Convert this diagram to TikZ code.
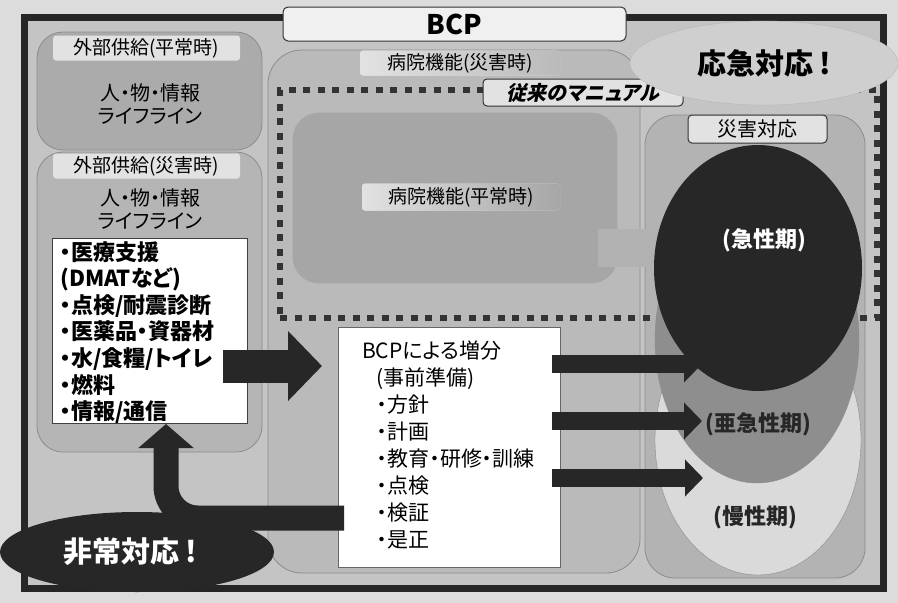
\documentclass[tikz,border=0pt]{standalone}
\usepackage{fontspec}
\setmainfont{Noto Sans CJK JP}[RawFeature=+palt]
\newfontfamily\jpsl{Noto Sans CJK JP}[RawFeature=+palt, FakeSlant=0.22]
\usetikzlibrary{arrows.meta,shapes.geometric}
\definecolor{paper}{HTML}{DCDCDC}
\definecolor{framefill}{HTML}{C4C4C4}
\definecolor{extfill}{HTML}{ABABAB}
\definecolor{ext2fill}{HTML}{B5B5B5}
\definecolor{midfill}{HTML}{BABABA}
\definecolor{normfill}{HTML}{A6A6A6}
\definecolor{rightfill}{HTML}{B3B3B3}
\definecolor{lightell}{HTML}{DADADA}
\definecolor{medell}{HTML}{8E8E8E}
\definecolor{darkc}{HTML}{272727}
\definecolor{stripc}{HTML}{E2E2E2}
\definecolor{grayarr}{HTML}{B2B2B2}
\begin{document}
\begin{tikzpicture}[x=1pt,y=-1pt,
  panel/.style={draw=black!45, line width=0.8pt, rounded corners=26pt, inner sep=0pt},
  strip/.style={fill=stripc, inner sep=0pt, rounded corners=3pt, font=\fontsize{19}{22}\selectfont},
  tagbox/.style={draw=black!80, line width=1pt, fill=stripc, rounded corners=4pt, inner sep=0pt},
  plainbox/.style={draw=black!75, line width=0.9pt, fill=white, inner sep=0pt},
  ell/.style={ellipse, inner sep=0pt},
  txt/.style={inner sep=0pt},
  bigarrow/.style={draw=darkc, line width=33pt, -{Triangle[length=34pt,width=68pt]}},
  midarrow/.style={draw=darkc, line width=18pt, -{Triangle[length=18pt,width=36pt]}},
  curvearrow/.style={draw=darkc, line width=25pt, rounded corners=32pt, -{Triangle[length=24pt,width=54pt]}},
  softarrow/.style={draw=grayarr, line width=38pt, -{Triangle[length=36pt,width=70pt]}}
]
\useasboundingbox (0,0) rectangle (898,603);
\fill[paper] (0,0) rectangle (898,603);
% outer frame
\node[draw=black!85, line width=7pt, fill=framefill, minimum width=859.5, minimum height=571, inner sep=0pt] (frame) at (453.75,302.5) {};
% big panels
\node[panel, fill=midfill, minimum width=372, minimum height=523, rounded corners=34pt] (mid) at (454,311.5) {};
\node[panel, fill=rightfill, minimum width=220, minimum height=463, rounded corners=30pt] (right) at (755,346.5) {};
\node[panel, fill=extfill, minimum width=225, minimum height=118] (ext1) at (149.5,91) {};
\node[panel, fill=ext2fill, minimum width=225, minimum height=300] (ext2) at (149.5,302) {};
\node[panel, fill=normfill, draw=black!35, minimum width=324, minimum height=170] (norm) at (455,198) {};
% label strips
\node[strip, minimum width=187, minimum height=25] (lext1) at (146.5,48) {外部供給(平常時)};
\node[strip, minimum width=187, minimum height=25] (lext2) at (146.5,166) {外部供給(災害時)};
\node[strip, left color=stripc, right color=midfill, minimum width=200, minimum height=25] (lmid) at (460,63) {病院機能(災害時)};
\node[strip, left color=stripc, right color=normfill, minimum width=198, minimum height=27] (lnorm) at (461,197) {病院機能(平常時)};
\node[txt, align=center, font=\fontsize{20}{23}\selectfont] (pext1) at (150,104) {人・物・情報\\ライフライン};
\node[txt, align=center, font=\fontsize{20}{23}\selectfont] (pext2) at (150,209) {人・物・情報\\ライフライン};
% gray arrow
\coordinate (ga1) at (598,248);
\coordinate (ga2) at (703,248);
\draw[softarrow] (ga1) -- (ga2);
% dotted frame (conventional manual)
\node[draw=black!80, line width=6pt, dash pattern=on 7pt off 7.5pt, minimum width=597, minimum height=228, inner sep=0pt] (manual) at (578.5,204) {};
% phase ellipses
\node[ell, fill=lightell, draw=black!45, minimum width=206, minimum height=270] (chronic) at (758,440) {};
\node[ell, fill=medell, draw=black!45, minimum width=204, minimum height=286] (subacute) at (757,340) {};
\node[ell, fill=darkc, minimum width=208, minimum height=246] (acute) at (758,268) {};
\node[txt, text=white, font=\fontsize{22}{26}\selectfont\bfseries] (tacute) at (764,240) {(急性期)};
\node[txt, text=black!85, font=\fontsize{22}{26}\selectfont\bfseries] (tsub) at (758,424) {(亜急性期)};
\node[txt, text=black!85, font=\fontsize{22}{26}\selectfont\bfseries] (tchron) at (755,517) {(慢性期)};
% tag boxes
\node[tagbox, minimum width=200, minimum height=27, font=\fontsize{20}{22}\selectfont\jpsl\bfseries] (tmanual) at (583,92.5) {従来のマニュアル};
\node[tagbox, minimum width=139, minimum height=28, font=\fontsize{20}{22}\selectfont] (tdis) at (757.5,129) {災害対応};
\node[tagbox, fill=black!6, minimum width=343, minimum height=34, rounded corners=5pt, font=\fontsize{27}{30}\selectfont\bfseries] (title) at (454.5,24) {BCP};
% emergency response ellipse
\node[ell, fill=black!19, draw=black!28, minimum width=268, minimum height=84, font=\fontsize{29}{32}\selectfont\bfseries] (urgent) at (764,63) {応急対応\hspace{6pt}!};
% white boxes
\node[plainbox, minimum width=195, minimum height=185] (list) at (149.5,330.5) {};
\node[txt, anchor=north west, align=left, font=\fontsize{22}{26.6}\selectfont\bfseries] (listtxt) at (60,241) {・医療支援\\(DMATなど)\\・点検/耐震診断\\・医薬品・資器材\\・水/食糧/トイレ\\・燃料\\・情報/通信};
\node[plainbox, draw=black!60, minimum width=222, minimum height=240] (bcp) at (449,447) {};
\node[txt, anchor=north west, align=left, font=\fontsize{21}{26.9}\selectfont] (bcptxt) at (362,341) {BCPによる増分\\\hspace*{14pt}(事前準備)\\\hspace*{15pt}・方針\\\hspace*{15pt}・計画\\\hspace*{15pt}・教育・研修・訓練\\\hspace*{15pt}・点検\\\hspace*{15pt}・検証\\\hspace*{15pt}・是正};
% dark arrows
\coordinate (a1s) at (223,366);
\coordinate (a1e) at (322,366);
\draw[bigarrow] (a1s) -- (a1e);
\coordinate (b1s) at (552,364);
\coordinate (b1e) at (702,364);
\coordinate (b2s) at (552,421);
\coordinate (b2e) at (702,421);
\coordinate (b3s) at (552,478);
\coordinate (b3e) at (703,478);
\draw[midarrow] (b1s) -- (b1e);
\draw[midarrow] (b2s) -- (b2e);
\draw[midarrow] (b3s) -- (b3e);
% non-routine response
\node[ell, fill=darkc, minimum width=274, minimum height=80, text=white, font=\fontsize{29}{32}\selectfont\bfseries] (hijo) at (137,552) {\hspace*{-14pt}非常対応\hspace{6pt}!};
\coordinate (c1s) at (344,518);
\coordinate (c1e) at (166,424);
\draw[curvearrow] (c1s) -| (c1e);
\end{tikzpicture}
\end{document}
